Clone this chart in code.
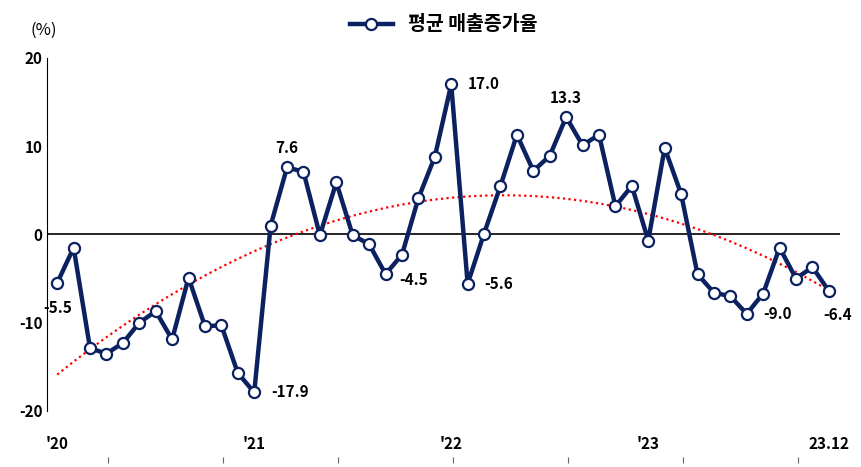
import numpy as np, pandas as pd, seaborn as sns, matplotlib
matplotlib.use("Agg")
import matplotlib.pyplot as plt

plt.rcParams["font.family"] = ["Noto Sans CJK JP", "Noto Sans CJK KR", "Noto Sans CJK SC", "DejaVu Sans"]
plt.rcParams["axes.unicode_minus"] = False

values = [-5.5, -1.5, -12.9, -13.5, -12.3, -10.0, -8.7, -11.9, -4.9, -10.4, -10.3, -15.7,
          -17.9, 1.0, 7.6, 7.1, -0.1, 5.9, -0.1, -1.1, -4.5, -2.3, 4.1, 8.8,
          17.0, -5.6, 0.1, 5.5, 11.3, 7.2, 8.9, 13.3, 10.1, 11.3, 3.2, 5.5,
          -0.7, 9.8, 4.6, -4.5, -6.6, -7.0, -9.0, -6.7, -1.5, -5.0, -3.7, -6.4]
tick_pos = [0, 12, 24, 36, 47]
tick_labels = ["'20", "'21", "'22", "'23", "23.12"]
series_name = "평균 매출증가율"

df = pd.DataFrame({"m": np.arange(len(values)), "v": values})
navy = "#0b2160"

fig = plt.figure(figsize=(8.61, 4.67), dpi=100)
ax = fig.add_axes([0.055, 0.12, 0.921, 0.756])

coef = np.polyfit(df.m, df.v, 2)
df["trend"] = np.polyval(coef, df.m)
sns.lineplot(data=df, x="m", y="trend", ax=ax, color="red", linestyle=(0, (1, 1.5)), lw=1.6)
sns.lineplot(data=df, x="m", y="v", ax=ax, color=navy, lw=3.2, marker="o", markersize=8,
             markerfacecolor="white", markeredgecolor=navy, markeredgewidth=1.6, label=series_name)
ax.axhline(0, color="black", lw=1.2, zorder=1)

ax.set_xlim(-0.6, 47.7)
ax.set_ylim(-20, 20)
ax.set_yticks([-20, -10, 0, 10, 20])
ax.set_xticks(tick_pos)
ax.set_xticklabels(tick_labels)
ax.tick_params(axis="x", length=0, pad=18)
ax.tick_params(axis="y", length=0)
for lab in ax.get_xticklabels() + ax.get_yticklabels():
    lab.set_fontweight("bold"); lab.set_fontsize(11)
for s in ["top", "right", "bottom"]:
    ax.spines[s].set_visible(False)
ax.spines["left"].set_color("black")
ax.set_xlabel(""); ax.set_ylabel("")

sec = ax.secondary_xaxis(-0.13)
sec.set_xticks([3.1 + 7 * k for k in range(7)])
sec.set_xticklabels([])
sec.spines["bottom"].set_visible(False)
sec.tick_params(length=4, color="#666666")

ann = {0: (0, -18, "center"), 12: (12, 0, "left"), 14: (0, 14, "center"), 20: (10, -4, "left"),
       24: (12, 0, "left"), 25: (12, 0, "left"), 31: (0, 14, "center"), 42: (12, 0, "left"),
       47: (6, -17, "center")}
for i, (dx, dy, ha) in ann.items():
    ax.annotate(f"{values[i]:.1f}", (i, values[i]), xytext=(dx, dy), textcoords="offset points",
                ha=ha, va="center", fontsize=11, fontweight="bold")

leg = ax.legend(loc="upper center", bbox_to_anchor=(0.5, 1.17), frameon=False,
                prop={"weight": "bold", "size": 14}, handlelength=2.2)
fig.text(0.035, 0.925, "(%)", fontsize=12)
fig.savefig("out.png", dpi=100)
